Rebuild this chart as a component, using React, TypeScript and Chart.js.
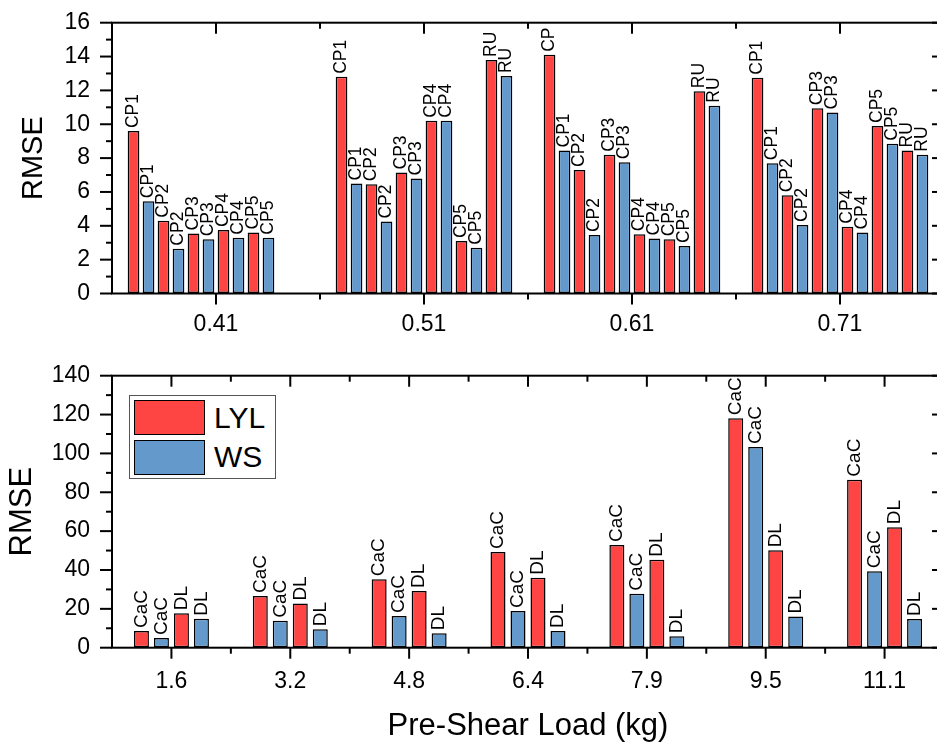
import React, { useEffect, useRef } from 'react';
import { Chart, registerables } from 'chart.js';

Chart.register(...registerables);

const FONT = "'Liberation Sans', Arial, sans-serif";
const RED = '#FF4444';
const BLUE = '#6499CC';

// ---------- Top panel data ----------
const topGroups = ['0.41', '0.51', '0.61', '0.71'];
const topLYLLabels = [
  ['CP1', 'CP2', 'CP3', 'CP4', 'CP5'],
  ['CP1', 'CP2', 'CP3', 'CP4', 'CP5', 'RU'],
  ['CP', 'CP2', 'CP3', 'CP4', 'CP5', 'RU'],
  ['CP1', 'CP2', 'CP3', 'CP4', 'CP5', 'RU'],
];
const topWSLabels = [
  ['CP1', 'CP2', 'CP3', 'CP4', 'CP5'],
  ['CP1', 'CP2', 'CP3', 'CP4', 'CP5', 'RU'],
  ['CP1', 'CP2', 'CP3', 'CP4', 'CP5', 'RU'],
  ['CP1', 'CP2', 'CP3', 'CP4', 'CP5', 'RU'],
];
const topLYL = [
  [9.6, 4.3, 3.55, 3.75, 3.6],
  [12.8, 6.45, 7.15, 10.2, 3.1, 13.8],
  [14.1, 7.3, 8.2, 3.5, 3.2, 11.95],
  [12.75, 5.8, 10.95, 3.95, 9.9, 8.45],
];
const topWS = [
  [5.45, 2.65, 3.2, 3.3, 3.3],
  [6.5, 4.25, 6.8, 10.2, 2.7, 12.85],
  [8.45, 3.45, 7.75, 3.25, 2.8, 11.1],
  [7.7, 4.05, 10.7, 3.6, 8.85, 8.2],
];
const topYMax = 16;
const topYStep = 2;

// ---------- Bottom panel data ----------
const bottomGroups = ['1.6', '3.2', '4.8', '6.4', '7.9', '9.5', '11.1'];
const bottomSeriesNames = ['CaC', 'DL'];
const cacLYL = [8.6, 26.6, 35.2, 49.3, 52.9, 118.1, 86.5];
const cacWS = [5.0, 13.9, 16.3, 18.9, 27.8, 103.3, 39.3];
const dlLYL = [17.7, 22.7, 29.2, 36.0, 45.3, 50.1, 62.0];
const dlWS = [14.9, 9.5, 7.4, 8.6, 5.9, 16.0, 14.8];
const bottomYMax = 140;
const bottomYStep = 20;

const legendNames = ['LYL', 'WS'];

// ---------- Plugins ----------
const frameTicksPlugin = {
  id: 'frameTicks',
  afterDraw(chart: any, _args: any, opts: any) {
    const { ctx, chartArea: a, scales } = chart;
    const xs = scales.x;
    const ys = scales.y;
    const major = 12;
    const minor = 6;
    ctx.save();
    ctx.strokeStyle = '#000';
    ctx.lineWidth = 2;
    const line = (x1: number, y1: number, x2: number, y2: number) => {
      ctx.beginPath();
      ctx.moveTo(x1, y1);
      ctx.lineTo(x2, y2);
      ctx.stroke();
    };
    // y ticks (left outward, right inward)
    const step = opts.yStep;
    for (let v = ys.min; v <= ys.max + 1e-9; v += step / 2) {
      const isMajor = Math.abs(v / step - Math.round(v / step)) < 1e-6;
      const py = ys.getPixelForValue(v);
      const len = isMajor ? major : minor;
      line(a.left - len, py, a.left, py);
      line(a.right - len, py, a.right, py);
    }
    // x ticks (bottom outward, top inward)
    const n = xs.getLabels().length;
    const centers: number[] = [];
    for (let i = 0; i < n; i++) centers.push(xs.getPixelForValue(i));
    const half = n > 1 ? (centers[1] - centers[0]) / 2 : 0;
    centers.forEach((cx) => {
      line(cx, a.bottom, cx, a.bottom + 11);
      line(cx, a.top, cx, a.top + 11);
    });
    for (let i = 1; i < n; i++) {
      const bx = centers[i] - half;
      line(bx, a.bottom, bx, a.bottom + 6);
      line(bx, a.top, bx, a.top + 6);
    }
    // frame
    ctx.strokeRect(a.left, a.top, a.right - a.left, a.bottom - a.top);
    ctx.restore();
  },
};

const barLabelPlugin = {
  id: 'barLabels',
  afterDatasetsDraw(chart: any, _args: any, opts: any) {
    const ctx = chart.ctx;
    ctx.save();
    ctx.font = `${opts.size}px ${FONT}`;
    ctx.fillStyle = '#000';
    ctx.textAlign = 'left';
    ctx.textBaseline = 'middle';
    chart.data.datasets.forEach((ds: any, di: number) => {
      const meta = chart.getDatasetMeta(di);
      meta.data.forEach((el: any, i: number) => {
        const lab = ds.barLabels ? ds.barLabels[i] : null;
        const v = ds.data[i];
        if (lab == null || v == null) return;
        ctx.save();
        ctx.translate(el.x, el.y - 3);
        ctx.rotate(-Math.PI / 2);
        ctx.fillText(lab, 0, 0);
        ctx.restore();
      });
    });
    ctx.restore();
  },
};

const xGrid = {
  display: true,
  drawOnChartArea: false,
  drawTicks: true,
  tickLength: 12,
  color: 'rgba(0,0,0,0)',
  offset: false,
};
const yGrid = {
  display: true,
  drawOnChartArea: false,
  drawTicks: true,
  tickLength: 22,
  color: 'rgba(0,0,0,0)',
};

function barStyle(color: string) {
  return {
    backgroundColor: color,
    borderColor: '#000',
    borderWidth: 1.5,
    borderSkipped: false,
  };
}

function buildTopDatasets() {
  const maxPairs = Math.max(...topLYL.map((g) => g.length));
  const out: any[] = [];
  for (let k = 0; k < maxPairs; k++) {
    out.push({
      label: legendNames[0],
      data: topLYL.map((g) => (g[k] === undefined ? null : g[k])),
      barLabels: topLYLLabels.map((g) => (g[k] === undefined ? null : g[k])),
      ...barStyle(RED),
    });
    out.push({
      label: legendNames[1],
      data: topWS.map((g) => (g[k] === undefined ? null : g[k])),
      barLabels: topWSLabels.map((g) => (g[k] === undefined ? null : g[k])),
      ...barStyle(BLUE),
    });
  }
  return out;
}

function buildBottomDatasets() {
  const series = [
    [cacLYL, cacWS],
    [dlLYL, dlWS],
  ];
  const out: any[] = [];
  series.forEach((pair, si) => {
    out.push({
      label: legendNames[0],
      data: pair[0],
      barLabels: pair[0].map(() => bottomSeriesNames[si]),
      ...barStyle(RED),
    });
    out.push({
      label: legendNames[1],
      data: pair[1],
      barLabels: pair[1].map(() => bottomSeriesNames[si]),
      ...barStyle(BLUE),
    });
  });
  return out;
}

function TopChart() {
  const ref = useRef<HTMLCanvasElement | null>(null);
  useEffect(() => {
    if (!ref.current) return;
    const chart = new Chart(ref.current, {
      type: 'bar',
      data: { labels: topGroups, datasets: buildTopDatasets() },
      options: {
        animation: false,
        responsive: false,
        devicePixelRatio: 1,
        layout: { padding: { top: 22.7, right: 16, bottom: 0, left: 0 } },
        datasets: { bar: { categoryPercentage: 0.865, barPercentage: 0.78 } },
        plugins: {
          legend: { display: false },
          tooltip: { enabled: false },
          frameTicks: { yStep: topYStep },
          barLabels: { size: 17.5 },
        } as any,
        scales: {
          x: {
            type: 'category',
            offset: true,
            grid: xGrid,
            border: { display: false },
            ticks: {
              font: { family: FONT, size: 23 },
              color: '#000',
              padding: 5.5,
              maxRotation: 0,
              autoSkip: false,
            },
            afterFit: (s: any) => {
              s.height = 66.5;
            },
          },
          y: {
            min: 0,
            max: topYMax,
            grid: yGrid,
            border: { display: false },
            ticks: {
              stepSize: topYStep,
              font: { family: FONT, size: 23 },
              color: '#000',
              padding: 0,
            },
            title: {
              display: true,
              text: 'RMSE',
              color: '#000',
              font: { family: FONT, size: 29 },
              padding: { top: 17, bottom: 0 },
            },
            afterFit: (s: any) => {
              s.width = 112;
            },
          },
        } as any,
      },
      plugins: [frameTicksPlugin, barLabelPlugin],
    });
    return () => chart.destroy();
  }, []);
  return (
    <canvas
      ref={ref}
      width={960}
      height={360}
      style={{ position: 'absolute', left: 0, top: 0, width: 960, height: 360 }}
    />
  );
}

function BottomChart() {
  const ref = useRef<HTMLCanvasElement | null>(null);
  useEffect(() => {
    if (!ref.current) return;
    const chart = new Chart(ref.current, {
      type: 'bar',
      data: { labels: bottomGroups, datasets: buildBottomDatasets() },
      options: {
        animation: false,
        responsive: false,
        devicePixelRatio: 1,
        layout: { padding: { top: 15.7, right: 16, bottom: 0, left: 0 } },
        datasets: { bar: { categoryPercentage: 0.673, barPercentage: 0.75 } },
        plugins: {
          legend: { display: false },
          tooltip: { enabled: false },
          frameTicks: { yStep: bottomYStep },
          barLabels: { size: 19 },
        } as any,
        scales: {
          x: {
            type: 'category',
            offset: true,
            grid: xGrid,
            border: { display: false },
            ticks: {
              font: { family: FONT, size: 23 },
              color: '#000',
              padding: 8.5,
              maxRotation: 0,
              autoSkip: false,
            },
            title: {
              display: true,
              text: 'Pre-Shear Load (kg)',
              color: '#000',
              font: { family: FONT, size: 31 },
              padding: { top: 0, bottom: 0 },
            },
            afterFit: (s: any) => {
              s.height = 97.3;
            },
          },
          y: {
            min: 0,
            max: bottomYMax,
            grid: yGrid,
            border: { display: false },
            ticks: {
              stepSize: bottomYStep,
              font: { family: FONT, size: 23 },
              color: '#000',
              padding: 0,
            },
            title: {
              display: true,
              text: 'RMSE',
              color: '#000',
              font: { family: FONT, size: 31 },
              padding: { top: 4, bottom: 0 },
            },
            afterFit: (s: any) => {
              s.width = 112;
            },
          },
        } as any,
      },
      plugins: [frameTicksPlugin, barLabelPlugin],
    });
    return () => chart.destroy();
  }, []);
  return (
    <canvas
      ref={ref}
      width={960}
      height={385}
      style={{ position: 'absolute', left: 0, top: 360, width: 960, height: 385 }}
    />
  );
}

function Legend() {
  const sw = (color: string, top: number) => ({
    position: 'absolute' as const,
    left: 134,
    top,
    width: 71,
    height: 35,
    background: color,
    border: '1.5px solid #000',
    boxSizing: 'border-box' as const,
  });
  const txt = (top: number) => ({
    position: 'absolute' as const,
    left: 214,
    top,
    height: 35,
    lineHeight: '35px',
    fontFamily: FONT,
    fontSize: 30,
    color: '#000',
  });
  return (
    <>
      <div
        style={{
          position: 'absolute',
          left: 129,
          top: 395,
          width: 147,
          height: 84,
          border: '1px solid #555',
          background: '#fff',
          boxSizing: 'border-box',
        }}
      />
      <div style={sw(RED, 400)} />
      <div style={txt(399.5)}>{legendNames[0]}</div>
      <div style={sw(BLUE, 439.5)} />
      <div style={txt(439)}>{legendNames[1]}</div>
    </>
  );
}

export default function App() {
  return (
    <div
      style={{
        position: 'fixed',
        left: 0,
        top: 0,
        width: 937,
        height: 744,
        overflow: 'hidden',
        background: '#fff',
      }}
    >
      <TopChart />
      <BottomChart />
      <Legend />
    </div>
  );
}
